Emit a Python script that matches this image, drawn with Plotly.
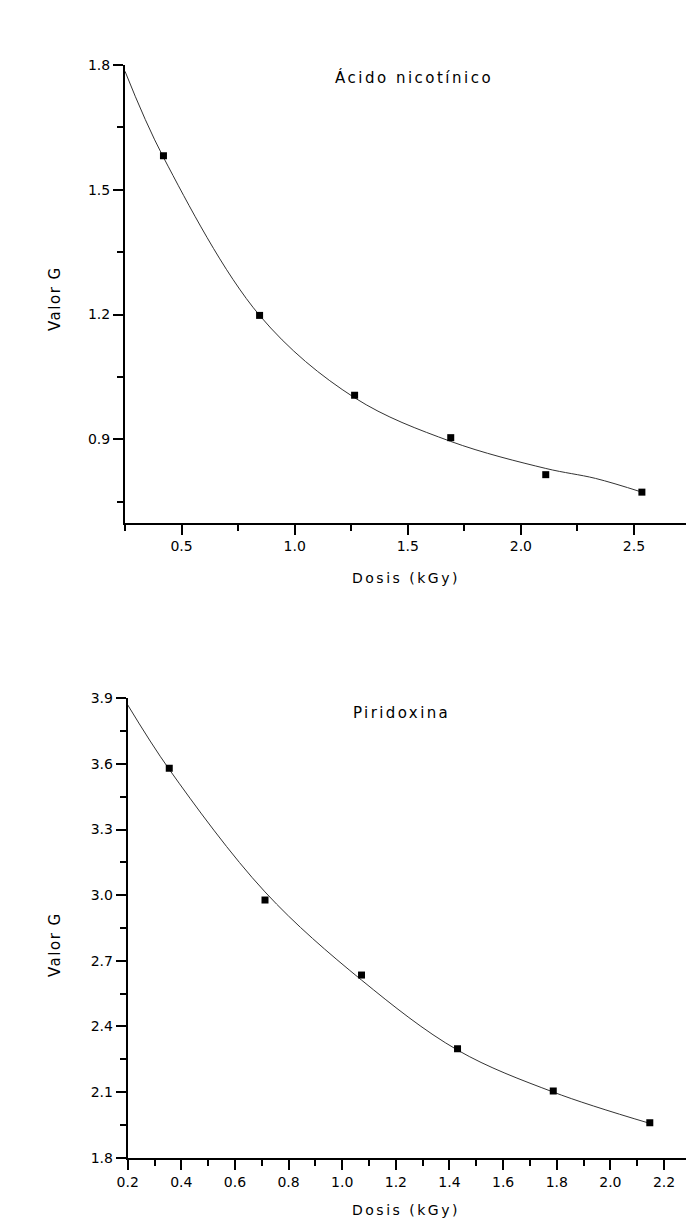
import plotly.graph_objects as go

# --- Ácido nicotínico: measured G values and fitted curve ---
nic_dose = [0.42, 0.845, 1.265, 1.69, 2.11, 2.535]
nic_g = [1.582, 1.198, 1.006, 0.904, 0.815, 0.773]
nic_fit_dose = [0.25, 0.42, 0.845, 1.265, 1.69, 2.11, 2.33, 2.535]
nic_fit_g = [1.785, 1.578, 1.198, 1.0, 0.895, 0.83, 0.806, 0.773]

# --- Piridoxina: measured G values and fitted curve ---
pir_dose = [0.355, 0.712, 1.072, 1.43, 1.787, 2.147]
pir_g = [3.58, 2.978, 2.635, 2.298, 2.105, 1.96]
pir_fit_dose = [0.2, 0.355, 0.712, 1.072, 1.43, 1.787, 2.147]
pir_fit_g = [3.87, 3.575, 3.015, 2.612, 2.292, 2.10, 1.957]

W, H = 686, 1224
FONT = "DejaVu Sans"


def px(x):
    return x / W


def py(y):
    return 1 - y / H


fig = go.Figure()

line_style = dict(color="#333333", width=1, shape="spline", smoothing=1.0)
marker_style = dict(symbol="square", size=7, color="black")

fig.add_trace(go.Scatter(x=nic_fit_dose, y=nic_fit_g, mode="lines", line=line_style,
                         xaxis="x", yaxis="y", hoverinfo="skip"))
fig.add_trace(go.Scatter(x=nic_dose, y=nic_g, mode="markers", marker=marker_style,
                         xaxis="x", yaxis="y"))
fig.add_trace(go.Scatter(x=pir_fit_dose, y=pir_fit_g, mode="lines", line=line_style,
                         xaxis="x2", yaxis="y2", hoverinfo="skip"))
fig.add_trace(go.Scatter(x=pir_dose, y=pir_g, mode="markers", marker=marker_style,
                         xaxis="x2", yaxis="y2"))

axis_common = dict(
    showgrid=False, zeroline=False, showline=True, linecolor="black", linewidth=2,
    ticks="outside", ticklen=10, tickwidth=1.5, tickcolor="black",
    tickfont=dict(family=FONT, size=14, color="black"),
    tickformat=".1f", mirror=False, automargin=False,
)
minor_common = dict(ticks="outside", ticklen=6, tickwidth=1.5, tickcolor="black")

fig.update_layout(
    template="none",
    width=W, height=H,
    margin=dict(l=0, r=0, t=0, b=0, pad=0),
    paper_bgcolor="white", plot_bgcolor="white",
    showlegend=False,
    xaxis=dict(axis_common, domain=[px(125), 1], range=[0.25, 2.73], anchor="y",
               tick0=0.5, dtick=0.5, minor=dict(minor_common, tick0=0.25, dtick=0.25)),
    yaxis=dict(axis_common, domain=[py(522.5), py(65)], range=[0.7, 1.8001], anchor="x",
               tick0=0.9, dtick=0.3, minor=dict(minor_common, tick0=0.75, dtick=0.3)),
    xaxis2=dict(axis_common, domain=[px(127.7), 1], range=[0.2, 2.282], anchor="y2",
                tick0=0.2, dtick=0.2, minor=dict(minor_common, tick0=0.1, dtick=0.2)),
    yaxis2=dict(axis_common, domain=[py(1157.7), py(698.3)], range=[1.8, 3.9001], anchor="x2",
                tick0=1.8, dtick=0.3, minor=dict(minor_common, tick0=1.95, dtick=0.3)),
)


def spaced(text, sp):
    return f"<span style='letter-spacing:{sp}px'>{text}</span>"


annots = [
    (spaced("Ácido nicotínico", 2.5), 414, 77, 0, 15),
    (spaced("Dosis (kGy)", 2.5), 406, 578, 0, 14),
    (spaced("Valor G", 1.5), 55, 299, -90, 15),
    (spaced("Piridoxina", 2.4), 401, 713, 0, 15),
    (spaced("Dosis (kGy)", 2.5), 406, 1210, 0, 14),
    (spaced("Valor G", 1.5), 55, 945, -90, 15),
]
for text, x, y, ang, size in annots:
    fig.add_annotation(text=text, x=px(x), y=py(y), xref="paper", yref="paper",
                       xanchor="center", yanchor="middle", textangle=ang, showarrow=False,
                       font=dict(family=FONT, size=size, color="black"))

fig.write_html("out.html")
